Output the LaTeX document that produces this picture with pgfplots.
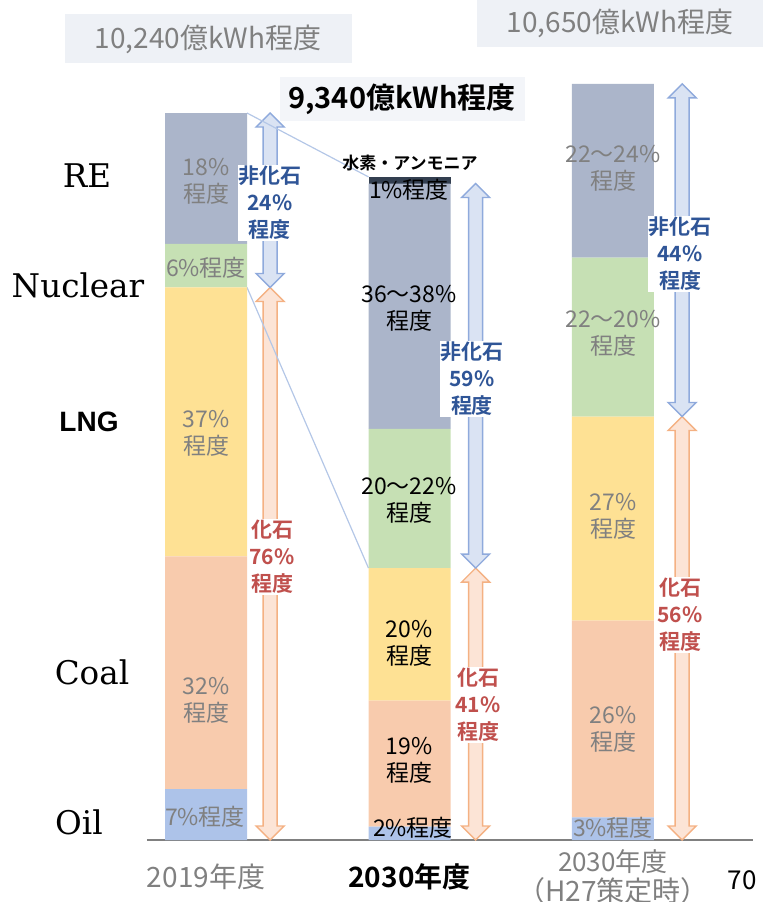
\documentclass[border=0pt]{standalone}
\usepackage{fontspec}
\setmainfont{Noto Sans CJK JP}[BoldFont={Noto Sans CJK JP Bold}]
\newfontfamily\serif{DejaVu Serif}
\newfontfamily\arial{Liberation Sans}
\usepackage{pgfplots}
\pgfplotsset{compat=1.18}
\usetikzlibrary{calc}

\definecolor{cRE}{HTML}{ABB5CA}
\definecolor{cNuc}{HTML}{C6E0B4}
\definecolor{cLNG}{HTML}{FEE194}
\definecolor{cCoal}{HTML}{F8CBAD}
\definecolor{cOil}{HTML}{ADC3E9}
\definecolor{cH2}{HTML}{333F50}
\definecolor{arrBfill}{HTML}{DAE3F3}
\definecolor{arrBdraw}{HTML}{8FAADC}
\definecolor{arrOfill}{HTML}{FCE4D6}
\definecolor{arrOdraw}{HTML}{F4B183}
\definecolor{linkblue}{HTML}{B4C7E7}
\definecolor{txtgray}{HTML}{808080}
\definecolor{nfblue}{HTML}{2F5597}
\definecolor{fred}{HTML}{C0504D}
\definecolor{boxbg}{HTML}{EEF1F6}

% hollow double arrow in axis coordinates: x, y from, y to, fill, draw
\newcommand{\dblarrow}[5]{%
  \filldraw[fill=#4, draw=#5, line width=0.7pt, line join=miter]
  (axis cs:#1,#2)
  -- ($(axis cs:#1,#2)+(7pt,7pt)$) -- ($(axis cs:#1,#2)+(3.5pt,7pt)$)
  -- ($(axis cs:#1,#3)+(3.5pt,-7pt)$) -- ($(axis cs:#1,#3)+(7pt,-7pt)$)
  -- (axis cs:#1,#3)
  -- ($(axis cs:#1,#3)+(-7pt,-7pt)$) -- ($(axis cs:#1,#3)+(-3.5pt,-7pt)$)
  -- ($(axis cs:#1,#2)+(-3.5pt,7pt)$) -- ($(axis cs:#1,#2)+(-7pt,7pt)$) -- cycle;}

\begin{document}
\begin{tikzpicture}
\begin{axis}[
  at={(73.5pt,-420pt)}, anchor=south west,
  scale only axis, width=303pt, height=418.87pt,
  xmin=-0.29, xmax=2.688, ymin=0, ymax=11800,
  enlargelimits=false, clip=false,
  ybar stacked, bar width=41pt,
  axis x line*=bottom, axis y line=none, ytick=\empty,
  x axis line style={draw=txtgray, line width=1pt, -},
  xtick={0,1,2}, major tick length=0pt,
  xticklabels={2019年度, {\color{black}\bfseries 2030年度}, {\fontsize{13}{14}\selectfont 2030年度\\（H27策定時）}},
  xticklabel style={anchor=center, yshift=-18.5pt, align=center, text=txtgray,
    font=\fontsize{14}{15}\selectfont},
]
\addplot[fill=cOil, draw=none] coordinates {(0,717) (1,187) (2,320)};
\addplot[fill=cCoal, draw=none] coordinates {(0,3277) (1,1775) (2,2769)};
\addplot[fill=cLNG, draw=none] coordinates {(0,3789) (1,1868) (2,2876)};
\addplot[fill=cNuc, draw=none] coordinates {(0,614) (1,1961) (2,2237)};
\addplot[fill=cRE, draw=none] coordinates {(0,1843) (1,3456) (2,2448)};
\addplot[fill=cH2, draw=none] coordinates {(0,0) (1,93) (2,0)};

\draw[linkblue, line width=0.6pt] (axis cs:0.2015,10240) -- (axis cs:0.7985,9340);
\draw[linkblue, line width=0.6pt] (axis cs:0.2015,7783) -- (axis cs:0.7985,3830);

\dblarrow{0.315}{7783}{10240}{arrBfill}{arrBdraw}
\dblarrow{0.315}{0}{7783}{arrOfill}{arrOdraw}
\dblarrow{1.325}{3830}{9247}{arrBfill}{arrBdraw}
\dblarrow{1.325}{0}{3830}{arrOfill}{arrOdraw}
\dblarrow{2.34}{5965}{10650}{arrBfill}{arrBdraw}
\dblarrow{2.34}{0}{5965}{arrOfill}{arrOdraw}
\end{axis}

\begin{scope}[x=0.5pt, y=-0.5pt,
  seg/.style={font=\fontsize{11.5}{13.5}\selectfont, align=center, inner sep=0pt},
  arr/.style={font=\fontsize{10.5}{13.5}\selectfont\bfseries, align=center, inner sep=0.5pt, fill=white},
  side/.style={font=\serif\fontsize{16.3}{18}\selectfont, inner sep=0pt}]
% totals
\fill[boxbg] (65,14) rectangle (352,63);
\node[font=\fontsize{14}{15}\selectfont, text=txtgray] at (208,39) {10,240億kWh程度};
\fill[boxbg!70!white] (280,77) rectangle (525,121);
\node[font=\fontsize{14.5}{15}\selectfont\bfseries] at (402,99) {9,340億kWh程度};
\fill[boxbg] (477,0) rectangle (763,47);
\node[font=\fontsize{14}{15}\selectfont, text=txtgray] at (620,23) {10,650億kWh程度};
% 2019
\node[seg, text=txtgray] at (206,181) {18\%\\程度};
\node[seg, text=txtgray] at (206,268) {6\%程度};
\node[seg, text=txtgray] at (206,433) {37\%\\程度};
\node[seg, text=txtgray] at (206,700) {32\%\\程度};
\node[seg, text=txtgray] at (205,817) {7\%程度};
\node[arr, text=nfblue] at (270,203) {非化石\\24\%\\程度};
\node[arr, text=fred] at (272,557) {化石\\76\%\\程度};
% 2030
\node[font=\fontsize{8.5}{9}\selectfont\bfseries, inner sep=0pt] at (410,163) {水素・アンモニア};
\node[seg] at (409,190) {1\%程度};
\node[seg] at (409,308) {36〜38\%\\程度};
\node[seg] at (409,500) {20〜22\%\\程度};
\node[seg] at (409,643) {20\%\\程度};
\node[seg] at (409,760) {19\%\\程度};
\node[seg] at (413,828) {2\%程度};
\node[arr, text=nfblue] at (472,379) {非化石\\59\%\\程度};
\node[arr, text=fred] at (478,705) {化石\\41\%\\程度};
% 2030 (H27)
\node[seg, text=txtgray] at (613,168) {22〜24\%\\程度};
\node[seg, text=txtgray] at (613,333) {22〜20\%\\程度};
\node[seg, text=txtgray] at (613,516) {27\%\\程度};
\node[seg, text=txtgray] at (613,729) {26\%\\程度};
\node[seg, text=txtgray] at (613,828) {3\%程度};
\node[arr, text=nfblue] at (680,254) {非化石\\44\%\\程度};
\node[arr, text=fred] at (680,615) {化石\\56\%\\程度};
% side labels
\node[side] at (87,176) {RE};
\node[side] at (78,285) {Nuclear};
\node[font=\arial\fontsize{14}{15}\selectfont\bfseries, inner sep=0pt] at (89,422) {LNG};
\node[side] at (92,672) {Coal};
\node[side] at (79,822) {Oil};
\node[font=\fontsize{13}{14}\selectfont, inner sep=0pt] at (742,880) {70};
\pgfresetboundingbox
\path[use as bounding box] (0,0) rectangle (763,902);
\end{scope}
\end{tikzpicture}
\end{document}
